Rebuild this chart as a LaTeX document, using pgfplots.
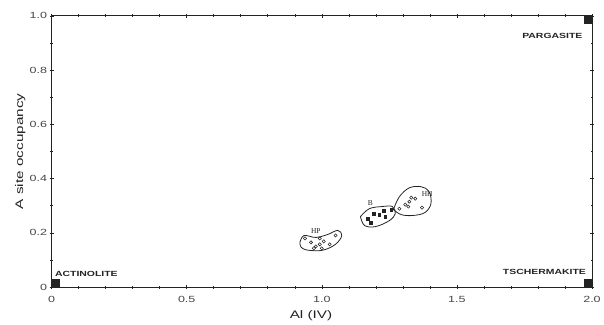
\documentclass[border=0pt]{standalone}
\usepackage{fontspec}
\setmainfont[FakeStretch=1.4]{Liberation Sans}
\newfontfamily\seriffont{Liberation Serif}
\usepackage{pgfplots}
\pgfplotsset{compat=1.18}
\definecolor{ink}{RGB}{35,35,35}
\definecolor{lab}{RGB}{70,70,70}
\begin{document}
\begin{tikzpicture}
\begin{axis}[
  scale only axis, width=544pt, height=273pt,
  xmin=0, xmax=2, ymin=0, ymax=1,
  clip=false,
  axis line style={ink, line width=0.9pt},
  xtick={0,0.5,1,1.5,2}, xticklabels={0,0.5,1.0,1.5,2.0},
  ytick={0,0.2,0.4,0.6,0.8,1}, yticklabels={0,0.2,0.4,0.6,0.8,1.0},
  minor x tick num=4, minor y tick num=1,
  tick align=center,
  major tick length=4pt, minor tick length=3pt,
  tick style={ink, line width=0.6pt},
  every tick label/.append style={font=\fontsize{9}{10}\selectfont, text=lab},
  xticklabel style={anchor=center, yshift=-10pt},
  yticklabel style={anchor=east, xshift=1pt},
  xlabel={Al (IV)}, ylabel={A site occupancy},
  label style={font=\fontsize{11}{12}\selectfont, text=ink},
  xlabel style={at={(axis description cs:0.48,-0.106)}, anchor=center},
  ylabel style={at={(axis description cs:-0.058,0.5)}, anchor=center},
]
% end-member corners
\addplot[only marks, mark=square*, mark size=3.6pt, color=ink] coordinates {(0.015,0.015) (1.985,0.985) (1.985,0.015)};
% HP
\addplot[only marks, mark=o, mark size=1.6pt, color=ink, line width=0.55pt] coordinates {
(0.9375,0.1795) (0.9596,0.1648) (0.978,0.150) (0.9926,0.1575) (1.007,0.1685)
(0.9926,0.1795) (0.9706,0.1429) (1.0,0.1429) (1.029,0.1575) (1.051,0.1905)};
\addplot[smooth, tension=0.6, color=ink, line width=0.8pt] coordinates {
(0.919,0.165) (0.934,0.190) (0.978,0.183) (1.022,0.194) (1.059,0.209) (1.074,0.190)
(1.051,0.158) (1.004,0.136) (0.949,0.136) (0.923,0.147) (0.919,0.165)};
% B
\addplot[only marks, mark=square*, mark size=1.3pt, color=ink] coordinates {
(1.169,0.2527) (1.191,0.271) (1.213,0.267) (1.228,0.282) (1.235,0.260) (1.257,0.2857) (1.180,0.238)};
\addplot[smooth, tension=0.6, color=ink, line width=0.8pt] coordinates {
(1.143,0.260) (1.176,0.289) (1.224,0.297) (1.261,0.297) (1.272,0.271) (1.250,0.245)
(1.199,0.223) (1.158,0.227) (1.143,0.260)};
% HH
\addplot[only marks, mark=o, mark size=1.6pt, color=ink, line width=0.55pt] coordinates {
(1.309,0.304) (1.324,0.315) (1.331,0.330) (1.346,0.326) (1.320,0.297) (1.371,0.293) (1.287,0.289)};
\addplot[smooth, tension=0.6, color=ink, line width=0.8pt] coordinates {
(1.265,0.286) (1.287,0.333) (1.324,0.366) (1.368,0.370) (1.397,0.352) (1.404,0.308)
(1.382,0.275) (1.338,0.264) (1.294,0.267) (1.265,0.286)};
% labels
\node[anchor=west, font=\bfseries\fontsize{7.5}{8}\selectfont, text=ink, inner sep=0pt] at (axis cs:0.012,0.048) {ACTINOLITE};
\node[anchor=east, font=\bfseries\fontsize{7.5}{8}\selectfont, text=ink, inner sep=0pt] at (axis cs:1.965,0.927) {PARGASITE};
\node[anchor=east, font=\bfseries\fontsize{7.5}{8}\selectfont, text=ink, inner sep=0pt] at (axis cs:1.978,0.055) {TSCHERMAKITE};
\node[font=\seriffont\fontsize{7.5}{8}\selectfont, text=ink, inner sep=0pt] at (axis cs:0.978,0.205) {HP};
\node[font=\seriffont\fontsize{7.5}{8}\selectfont, text=ink, inner sep=0pt] at (axis cs:1.18,0.308) {B};
\node[font=\seriffont\fontsize{7.5}{8}\selectfont, text=ink, inner sep=0pt] at (axis cs:1.39,0.343) {HH};
\coordinate (sw) at (rel axis cs:0,0);
\coordinate (ne) at (rel axis cs:1,1);
\end{axis}
\path (sw) ++(-52pt,-36pt);
\path (ne) ++(8pt,16pt);
\end{tikzpicture}
\end{document}
